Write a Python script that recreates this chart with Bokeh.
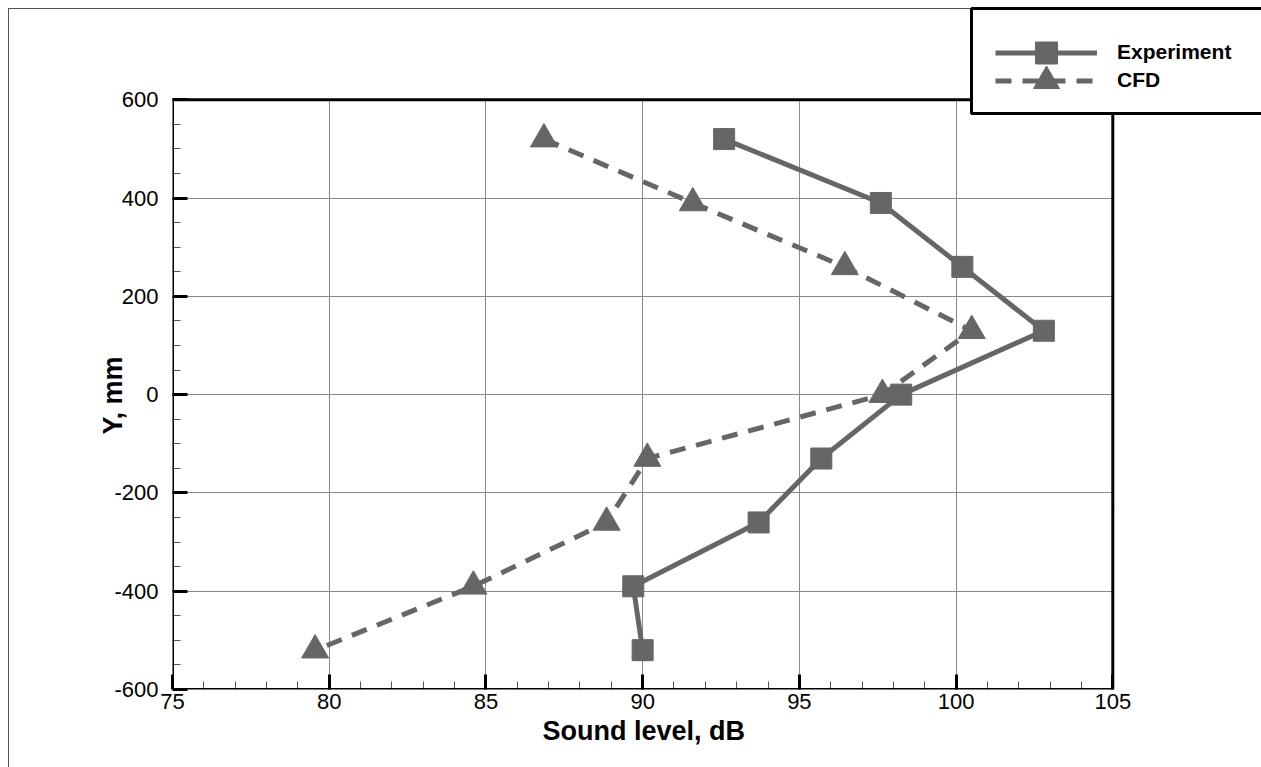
from bokeh.plotting import figure
from bokeh.models import FixedTicker, Legend, LegendItem, Range1d, BoxAnnotation, Title
from bokeh.embed import file_html
from bokeh.resources import INLINE

# ---- data ----
y_pos = [520, 390, 260, 130, 0, -130, -260, -390, -520]
experiment = [92.6, 97.6, 100.2, 102.8, 98.25, 95.7, 93.7, 89.7, 90.0]
cfd = [86.85, 91.6, 96.45, 100.5, 97.65, 90.15, 88.85, 84.6, 79.55]
x_ticks = [75, 80, 85, 90, 95, 100, 105]
x_minor = [v for v in range(75, 106) if v % 5 != 0]
y_ticks = [-600, -400, -200, 0, 200, 400, 600]
y_minor = [v for v in range(-600, 601, 50) if v % 200 != 0]
series_names = ["Experiment", "CFD"]
x_title = "Sound level, dB"
y_title = "Y, mm"

FONT = "Liberation Sans"
GREY = "#666666"

# The frame is extended to the top/right canvas edges so the legend (which sits
# partly outside the plot box) is not clipped; the plot box itself is 75..105 x -600..600.
X_VIEW_END = 109.744
Y_VIEW_END = 802.0

p = figure(width=1261, height=767,
           x_range=Range1d(x_ticks[0], X_VIEW_END), y_range=Range1d(y_ticks[0], Y_VIEW_END),
           output_backend="svg", toolbar_location=None,
           min_border_left=172, min_border_right=0, min_border_top=0, min_border_bottom=78)
p.title.visible = False
p.background_fill_color = None
p.border_fill_color = None
p.outline_line_color = None
p.styles = {
    "background": "linear-gradient(#555555, #555555) 8px 8px / 1px 100% no-repeat, "
                  "linear-gradient(#555555, #555555) 8px 8px / 100% 1px no-repeat, white"
}

xt = FixedTicker(ticks=x_ticks, minor_ticks=x_minor)
yt = FixedTicker(ticks=y_ticks, minor_ticks=y_minor)
p.xaxis.ticker = xt
p.yaxis.ticker = yt
p.xaxis.bounds = (x_ticks[0], x_ticks[-1])
p.yaxis.bounds = (y_ticks[0], y_ticks[-1])

grid_ok = True
try:
    p.xgrid[0].cross_bounds = (y_ticks[0], y_ticks[-1])
    p.ygrid[0].cross_bounds = (x_ticks[0], x_ticks[-1])
except Exception:
    grid_ok = False

if grid_ok:
    p.xgrid.ticker = xt
    p.ygrid.ticker = yt
    for g in (p.xgrid, p.ygrid):
        g.grid_line_color = "#8a8a8a"
        g.grid_line_width = 1
else:
    p.xgrid.visible = False
    p.ygrid.visible = False
    p.segment(x0=x_ticks, y0=[y_ticks[0]] * len(x_ticks), x1=x_ticks, y1=[y_ticks[-1]] * len(x_ticks),
              line_color="#8a8a8a", line_width=1)
    p.segment(x0=[x_ticks[0]] * len(y_ticks), y0=y_ticks, x1=[x_ticks[-1]] * len(y_ticks), y1=y_ticks,
              line_color="#8a8a8a", line_width=1)

for ax in (p.xaxis, p.yaxis):
    ax.axis_line_color = None
    ax.major_tick_in = 15
    ax.major_tick_out = 0
    ax.major_tick_line_width = 3
    ax.major_tick_line_color = "black"
    ax.minor_tick_in = 8
    ax.minor_tick_out = 0
    ax.minor_tick_line_width = 1
    ax.minor_tick_line_color = "#555555"
    ax.major_label_text_font = FONT
    ax.major_label_text_font_size = "22px"
    ax.major_label_text_color = "black"

p.xaxis.major_label_overrides = {v: str(v) for v in x_ticks}
p.yaxis.major_label_overrides = {v: str(v) for v in y_ticks}
p.xaxis.major_label_standoff = 4
p.yaxis.major_label_standoff = 14

# axis titles, positioned along the 75..105 / -600..600 box rather than the extended frame
title_style = dict(text_font=FONT, text_font_size="27px", text_font_style="bold", text_color="black")
xlab = Title(text=x_title, align="left", offset=370, vertical_align="top", standoff=8, **title_style)
p.add_layout(xlab, "below")
ylab = Title(text=y_title, align="left", offset=255, vertical_align="bottom", standoff=-32, **title_style)
p.add_layout(ylab, "left")

# plot box (black border of the 75..105 x -600..600 area)
plot_box = BoxAnnotation(left=x_ticks[0], right=x_ticks[-1], bottom=y_ticks[0], top=y_ticks[-1],
                         fill_alpha=0, line_color="black", line_alpha=1, line_width=3, level="annotation")
p.add_layout(plot_box)

r1 = p.line(experiment, y_pos, line_width=5, line_color=GREY)
s1 = p.scatter(experiment, y_pos, marker="square", size=21, fill_color=GREY, line_color=GREY)
r2 = p.line(cfd, y_pos, line_width=5, line_color=GREY, line_dash="16 11")
s2 = p.scatter(cfd, y_pos, marker="triangle", size=27, fill_color=GREY, line_color=GREY)

# legend box
legbox = BoxAnnotation(left=971, right=1400, top=8, bottom=113,
                       left_units="canvas", right_units="canvas", top_units="canvas", bottom_units="canvas",
                       fill_color="white", fill_alpha=1, line_color="black", line_alpha=1, line_width=3,
                       level="overlay")
p.add_layout(legbox)

common = dict(glyph_width=102, padding=0, margin=0, label_standoff=20,
              border_line_color=None, background_fill_alpha=0,
              label_text_font=FONT, label_text_font_style="bold", label_text_font_size="21px",
              label_text_color="black")
leg1 = Legend(items=[LegendItem(label=series_names[0], renderers=[r1, s1])],
              location=(823, 609.5), glyph_height=55, **common)
leg2 = Legend(items=[LegendItem(label=series_names[1], renderers=[r2, s2])],
              location=(823, 576.5), glyph_height=65, **common)
leg1.level = "overlay"
leg2.level = "overlay"
p.add_layout(leg1)
p.add_layout(leg2)

open("out.html", "w").write(file_html(p, INLINE))
